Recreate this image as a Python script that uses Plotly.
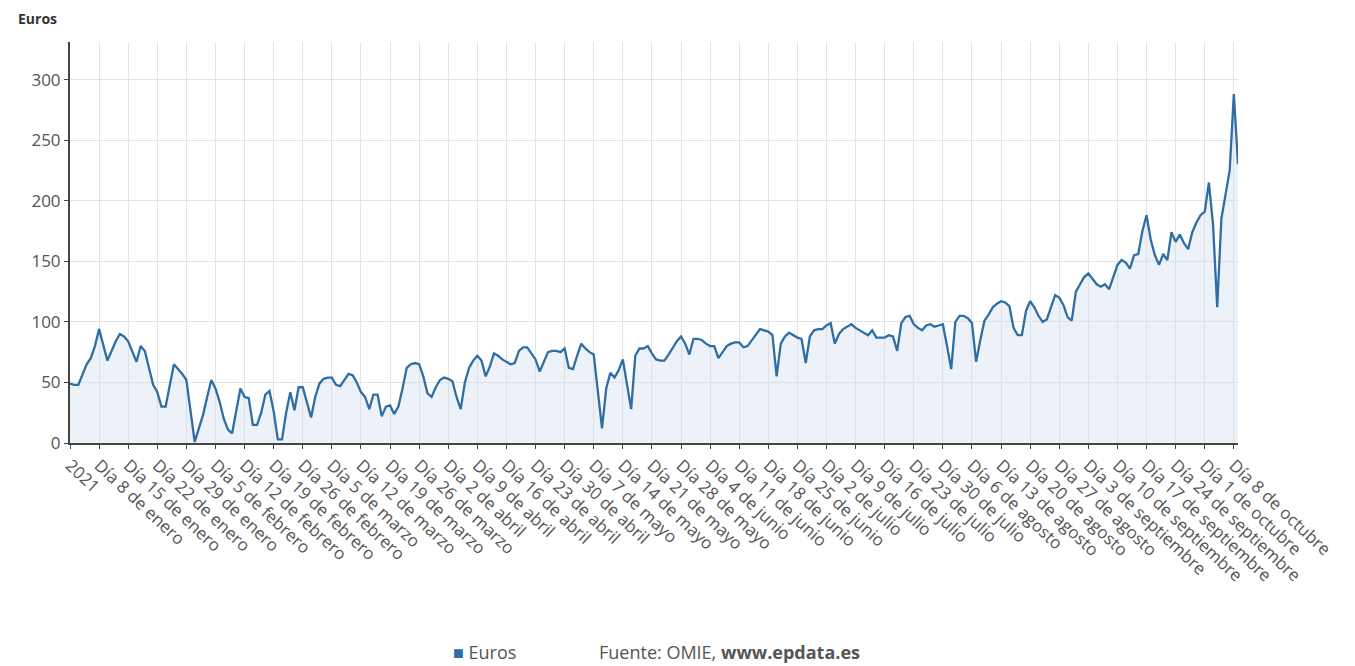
import pandas as pd
import plotly.graph_objects as go

# Daily price, 1 Jan 2021 -> 9 Oct 2021 (euros)
enero = [49, 48, 48, 57, 65, 70, 80, 94, 80, 68, 76, 84, 90, 88, 84, 76, 67, 80, 76, 62,
         48, 42, 30, 30, 48, 65, 61, 57, 52, 25, 1]
febrero = [12, 23, 38, 52, 45, 34, 20, 11, 8, 26, 45, 38, 37, 15, 15, 25, 40, 43, 26, 3,
           3, 25, 42, 27, 46, 46, 33, 21]
marzo = [38, 49, 53, 54, 54, 48, 47, 52, 57, 56, 50, 42, 38, 28, 40, 40, 22, 30, 31, 24,
         30, 45, 62, 65, 66, 65, 55, 41, 38, 46, 52]
abril = [54, 53, 51, 38, 28, 50, 62, 68, 72, 68, 55, 63, 74, 72, 69, 67, 65, 66, 76, 79,
         79, 74, 69, 59, 67, 75, 76, 76, 75, 78]
mayo = [62, 61, 72, 82, 78, 75, 73, 45, 12, 45, 58, 54, 60, 69, 50, 28, 72, 78, 78, 80,
        74, 69, 68, 68, 73, 79, 84, 88, 82, 73, 86]
junio = [86, 85, 82, 80, 80, 70, 75, 80, 82, 83, 83, 79, 80, 85, 90, 94, 93, 92, 89, 55,
         82, 88, 91, 89, 87, 86, 66, 88, 93, 94]
julio = [94, 97, 99, 82, 90, 94, 96, 98, 95, 93, 91, 89, 93, 87, 87, 87, 89, 88, 76, 99,
         104, 105, 98, 95, 93, 97, 98, 96, 97, 98, 80]
agosto = [61, 100, 105, 105, 103, 99, 67, 85, 101, 106, 112, 115, 117, 116, 113, 95, 89, 89, 109, 117,
          112, 105, 100, 102, 112, 122, 120, 114, 104, 101, 125]
septiembre = [131, 137, 140, 135, 131, 129, 131, 127, 137, 147, 151, 149, 144, 155, 156, 175, 188, 168, 155, 147,
              156, 151, 174, 166, 172, 165, 160, 174, 182, 188]
octubre = [191, 215, 180, 112, 185, 205, 225, 288, 230]

valores = enero + febrero + marzo + abril + mayo + junio + julio + agosto + septiembre + octubre
fechas = pd.date_range("2021-01-01", periods=len(valores), freq="D")

tick_fechas = pd.date_range("2021-01-01", "2021-10-08", freq="7D")
tick_textos = ["2021", "Día 8 de enero", "Día 15 de enero", "Día 22 de enero", "Día 29 de enero",
               "Día 5 de febrero", "Día 12 de febrero", "Día 19 de febrero", "Día 26 de febrero",
               "Día 5 de marzo", "Día 12 de marzo", "Día 19 de marzo", "Día 26 de marzo",
               "Día 2 de abril", "Día 9 de abril", "Día 16 de abril", "Día 23 de abril", "Día 30 de abril",
               "Día 7 de mayo", "Día 14 de mayo", "Día 21 de mayo", "Día 28 de mayo",
               "Día 4 de junio", "Día 11 de junio", "Día 18 de junio", "Día 25 de junio",
               "Día 2 de julio", "Día 9 de julio", "Día 16 de julio", "Día 23 de julio", "Día 30 de julio",
               "Día 6 de agosto", "Día 13 de agosto", "Día 20 de agosto", "Día 27 de agosto",
               "Día 3 de septiembre", "Día 10 de septiembre", "Día 17 de septiembre", "Día 24 de septiembre",
               "Día 1 de octubre", "Día 8 de octubre"]
y_ticks = [0, 50, 100, 150, 200, 250, 300]

LINE = "#2f6ea5"
FONT = "Open Sans, Noto Sans, sans-serif"

fig = go.Figure()
fig.add_trace(go.Scatter(
    x=fechas, y=valores, mode="lines", name="Euros",
    line=dict(color=LINE, width=2.3),
    fill="tozeroy", fillcolor="rgba(210,222,240,0.4)",
    showlegend=False,
))

fig.update_layout(
    width=1339, height=658,
    margin=dict(l=62, r=109, t=34, b=223),
    paper_bgcolor="white", plot_bgcolor="white",
    font=dict(family=FONT, color="#555555"),
    xaxis=dict(
        type="date", automargin=False,
        range=[fechas[0], fechas[-1]],
        tickvals=list(tick_fechas), ticktext=tick_textos,
        tickangle=43,
        tickfont=dict(size=17, color="#555555"),
        showgrid=True, gridcolor="#e3e3e3", gridwidth=1,
        showline=True, linecolor="#444444", linewidth=2,
        ticks="outside", ticklen=4, tickcolor="#444444",
        zeroline=False,
    ),
    yaxis=dict(
        automargin=False,
        range=[0, 331],
        tickvals=y_ticks,
        tickfont=dict(size=17, color="#555555"),
        showgrid=True, gridcolor="#e3e3e3", gridwidth=1,
        showline=True, linecolor="#444444", linewidth=2,
        ticks="outside", ticklen=4, tickcolor="#444444",
        zeroline=False,
    ),
    annotations=[
        dict(text="<b>Euros</b>", xref="paper", yref="paper", x=-0.046, y=1.058,
             xanchor="left", yanchor="middle", showarrow=False,
             font=dict(size=14, color="#333333", family=FONT)),
        dict(text="<span style='color:%s'>■</span> Euros" % LINE,
             xref="paper", yref="paper", x=0.326, y=-0.522,
             xanchor="left", yanchor="middle", showarrow=False,
             font=dict(size=18, color="#555555", family=FONT)),
        dict(text="Fuente: OMIE, <b>www.epdata.es</b>",
             xref="paper", yref="paper", x=0.451, y=-0.522,
             xanchor="left", yanchor="middle", showarrow=False,
             font=dict(size=18, color="#555555", family=FONT)),
    ],
)

fig.write_html("out.html")
